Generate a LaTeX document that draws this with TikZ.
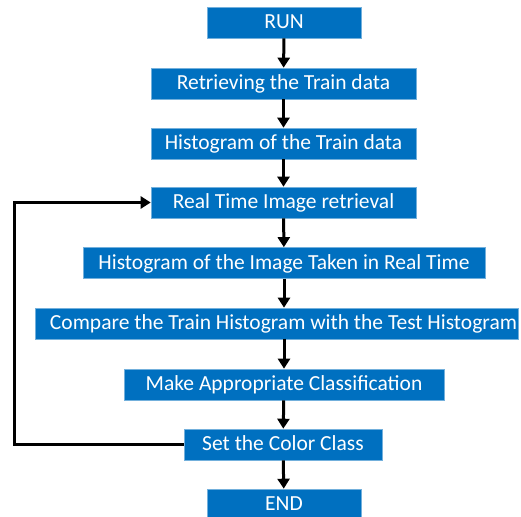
\documentclass[tikz,border=0pt]{standalone}
\usepackage{fontspec}
\setmainfont{Carlito}
\usetikzlibrary{arrows.meta}

\definecolor{boxblue}{RGB}{0,112,192}

\begin{document}
\begin{tikzpicture}[x=1pt, y=-1pt,
    stepbox/.style={draw=boxblue!55!white, line width=0.6pt, fill=boxblue,
      text=white, font=\fontsize{21.5}{24}\selectfont, inner sep=0pt,
      minimum height=31pt, text height=14.5pt, text depth=2pt},
    flow/.style={-{Triangle[length=10pt,width=12pt]}, line width=3pt}]
    \useasboundingbox (0,0) rectangle (521,516);

    % boxes of the flow
    \node[stepbox, minimum width=154pt] (run)  at (284,22.5)  {RUN};
    \node[stepbox, minimum width=265pt] (get)  at (283.5,83.5) {Retrieving the Train data};
    \node[stepbox, minimum width=265pt] (htr)  at (283.5,143.5) {Histogram of the Train data};
    \node[stepbox, minimum width=265pt] (real) at (283.5,202.5) {Real Time Image retrieval};
    \node[stepbox, minimum width=402pt] (him)  at (284,263)   {Histogram of the Image Taken in Real Time};
    \node[stepbox, minimum width=483pt] (cmp)  at (276.5,323.5) {\hspace*{14pt}Compare the Train Histogram with the Test Histogram};
    \node[stepbox, minimum width=320pt] (cls)  at (284,384.5) {Make Appropriate Classification};
    \node[stepbox, minimum width=198pt] (set)  at (283,444.5) {Set the Color Class};
    \node[stepbox, minimum width=154pt] (fin)  at (284,504.5) {END};

    % arrows down
    \draw[flow] (run) -- (get);
    \draw[flow] (get) -- (htr);
    \draw[flow] (htr) -- (real);
    \draw[flow] (real) -- (him);
    \draw[flow] (him.south) -- (him.south |- cmp.north);
    \draw[flow] (cmp.north -| cls.north) ++(0,31) -- (cls);
    \draw[flow] (cls) -- (set);
    \draw[flow] (set) -- (fin);

    % loop back
    \coordinate (back) at (14.5,444.5);
    \draw[flow, line join=miter] (set.west) -- (back) |- (real.west);
\end{tikzpicture}
\end{document}
